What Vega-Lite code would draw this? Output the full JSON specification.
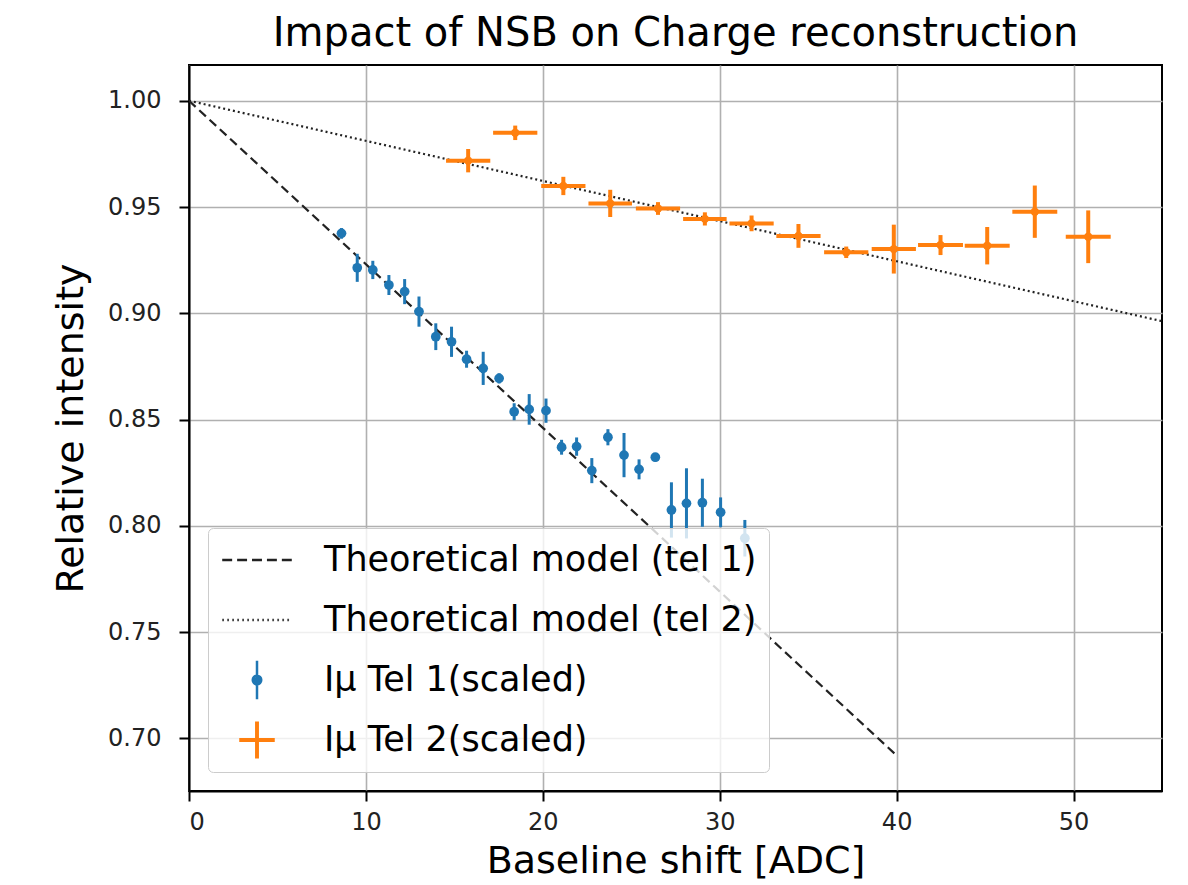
{
  "$schema": "https://vega.github.io/schema/vega-lite/v6.json",
  "width": 973,
  "height": 726,
  "autosize": {"type": "none"},
  "padding": {"left": 189, "top": 65, "right": 26, "bottom": 94},
  "background": "white",
  "title": {
    "text": "Impact of NSB on Charge reconstruction",
    "font": "DejaVu Sans",
    "fontSize": 40,
    "fontWeight": "normal",
    "color": "#000000",
    "anchor": "middle",
    "frame": "group",
    "baseline": "bottom",
    "offset": 9,
    "dy": 38
  },
  "config": {
    "view": {"stroke": "#000000", "strokeWidth": 2},
    "font": "DejaVu Sans",
    "axis": {
      "grid": true,
      "gridColor": "#b0b0b0",
      "gridWidth": 1.6,
      "domainColor": "#000000",
      "domainWidth": 2,
      "tickColor": "#000000",
      "tickWidth": 2,
      "tickSize": 10,
      "labelFont": "DejaVu Sans",
      "labelFontSize": 24,
      "labelColor": "#222222",
      "titleFont": "DejaVu Sans",
      "titleFontSize": 38,
      "titleFontWeight": "normal",
      "titleColor": "#000000"
    }
  },
  "datasets": {
    "model": [
      {"series": "tel1", "x": 0, "y": 1.0},
      {"series": "tel1", "x": 13, "y": 0.9},
      {"series": "tel1", "x": 26, "y": 0.8},
      {"series": "tel1", "x": 40, "y": 0.692},
      {"series": "tel2", "x": 0, "y": 1.0},
      {"series": "tel2", "x": 15, "y": 0.9717},
      {"series": "tel2", "x": 30, "y": 0.9434},
      {"series": "tel2", "x": 40, "y": 0.9245},
      {"series": "tel2", "x": 55, "y": 0.8963}
    ],
    "tel1": [
      {"x": 8.62, "y": 0.9376, "ey": 0.0025},
      {"x": 9.51, "y": 0.9214, "ey": 0.0066},
      {"x": 10.39, "y": 0.9204, "ey": 0.0043},
      {"x": 11.30, "y": 0.9133, "ey": 0.0047},
      {"x": 12.19, "y": 0.9102, "ey": 0.0059},
      {"x": 13.00, "y": 0.9008, "ey": 0.0071},
      {"x": 13.95, "y": 0.8890, "ey": 0.0063},
      {"x": 14.84, "y": 0.8866, "ey": 0.0071},
      {"x": 15.69, "y": 0.8784, "ey": 0.0040},
      {"x": 16.63, "y": 0.8741, "ey": 0.0078},
      {"x": 17.53, "y": 0.8694, "ey": 0.0024},
      {"x": 18.38, "y": 0.8537, "ey": 0.0040},
      {"x": 19.23, "y": 0.8548, "ey": 0.0072},
      {"x": 20.18, "y": 0.8542, "ey": 0.0057},
      {"x": 21.06, "y": 0.8370, "ey": 0.0035},
      {"x": 21.91, "y": 0.8373, "ey": 0.0043},
      {"x": 22.77, "y": 0.8260, "ey": 0.0059},
      {"x": 23.68, "y": 0.8417, "ey": 0.0038},
      {"x": 24.59, "y": 0.8333, "ey": 0.0104},
      {"x": 25.44, "y": 0.8266, "ey": 0.0047},
      {"x": 26.36, "y": 0.8323, "ey": 0.0020},
      {"x": 27.27, "y": 0.8075, "ey": 0.0130},
      {"x": 28.12, "y": 0.8106, "ey": 0.0165},
      {"x": 29.02, "y": 0.8109, "ey": 0.0113},
      {"x": 30.05, "y": 0.8064, "ey": 0.0070},
      {"x": 31.42, "y": 0.7942, "ey": 0.0086}
    ],
    "tel2": [
      {"x": 15.78, "y": 0.9718, "ex": 1.25, "ey": 0.0055},
      {"x": 18.44, "y": 0.9849, "ex": 1.25, "ey": 0.0034},
      {"x": 21.16, "y": 0.9599, "ex": 1.25, "ey": 0.0043},
      {"x": 23.81, "y": 0.9517, "ex": 1.23, "ey": 0.0064},
      {"x": 26.51, "y": 0.9493, "ex": 1.25, "ey": 0.0030},
      {"x": 29.16, "y": 0.9444, "ex": 1.23, "ey": 0.0031},
      {"x": 31.80, "y": 0.9423, "ex": 1.25, "ey": 0.0037},
      {"x": 34.45, "y": 0.9364, "ex": 1.25, "ey": 0.0056},
      {"x": 37.15, "y": 0.9287, "ex": 1.25, "ey": 0.0027},
      {"x": 39.84, "y": 0.9302, "ex": 1.25, "ey": 0.0115},
      {"x": 42.48, "y": 0.9321, "ex": 1.27, "ey": 0.0047},
      {"x": 45.12, "y": 0.9318, "ex": 1.27, "ey": 0.0088},
      {"x": 47.81, "y": 0.9478, "ex": 1.27, "ey": 0.0123},
      {"x": 50.83, "y": 0.9360, "ex": 1.27, "ey": 0.0124}
    ],
    "legend": [
      {"series": "Theoretical model (tel 1)"},
      {"series": "Theoretical model (tel 2)"},
      {"series": "Iμ Tel 1(scaled)"},
      {"series": "Iμ Tel 2(scaled)"}
    ]
  },
  "encoding": {
    "x": {"field": "x", "type": "quantitative", "title": "Baseline shift [ADC]", "scale": {"domain": [0, 55], "nice": false, "zero": false}, "axis": {"values": [0, 10, 20, 30, 40, 50], "labelPadding": 9, "titlePadding": 8}},
    "y": {"field": "y", "type": "quantitative", "title": "Relative intensity", "scale": {"domain": [0.6753, 1.0168], "nice": false, "zero": false}, "axis": {"values": [0.70, 0.75, 0.80, 0.85, 0.90, 0.95, 1.00], "format": ".2f", "labelPadding": 18, "titlePadding": 17}}
  },
  "layer": [
    {
      "data": {"name": "model"},
      "mark": {"type": "line", "color": "#222222", "strokeWidth": 2.2, "clip": true},
      "encoding": {
        "detail": {"field": "series", "type": "nominal"},
        "strokeDash": {"field": "series", "type": "nominal", "scale": {"domain": ["tel1", "tel2"], "range": [[9, 5], [2, 3]]}, "legend": null}
      }
    },
    {
      "data": {"name": "tel1"},
      "mark": {"type": "errorbar", "color": "#1f77b4", "thickness": 3},
      "encoding": {
        "yError": {"field": "ey"}
      }
    },
    {
      "data": {"name": "tel1"},
      "mark": {"type": "point", "filled": true, "opacity": 1, "color": "#1f77b4", "size": 95, "shape": "circle"}
    },
    {
      "data": {"name": "tel2"},
      "mark": {"type": "errorbar", "color": "#ff7f0e", "thickness": 4},
      "encoding": {
        "yError": {"field": "ey"}
      }
    },
    {
      "data": {"name": "tel2"},
      "mark": {"type": "errorbar", "color": "#ff7f0e", "thickness": 4},
      "encoding": {
        "xError": {"field": "ex"}
      }
    },
    {
      "data": {"name": "tel2"},
      "mark": {"type": "point", "filled": true, "opacity": 1, "color": "#ff7f0e", "size": 70, "shape": "circle"}
    },
    {
      "data": {"name": "legend"},
      "mark": {"type": "point", "filled": false, "opacity": 0},
      "encoding": {
        "x": {"datum": 1, "type": "quantitative"},
        "y": {"datum": 1, "type": "quantitative"},
        "color": {
          "field": "series", "type": "nominal",
          "scale": {"domain": ["Theoretical model (tel 1)", "Theoretical model (tel 2)", "Iμ Tel 1(scaled)", "Iμ Tel 2(scaled)"], "range": ["#222222", "#444444", "#1f77b4", "#ff7f0e"]},
          "legend": {
            "title": null,
            "orient": "bottom-left",
            "offset": 19,
            "padding": 12,
            "fillColor": "rgba(255,255,255,0.8)",
            "strokeColor": "#cccccc",
            "cornerRadius": 5,
            "labelFont": "DejaVu Sans",
            "labelFontSize": 35,
            "labelColor": "#000000",
            "labelLimit": 700,
            "labelOffset": 30,
            "rowPadding": 20,
            "clipHeight": 40,
            "symbolSize": 5041,
            "symbolOpacity": 1,
            "symbolStrokeWidth": 2.5
          }
        },
        "shape": {
          "field": "series", "type": "nominal",
          "scale": {
            "domain": ["Theoretical model (tel 1)", "Theoretical model (tel 2)", "Iμ Tel 1(scaled)", "Iμ Tel 2(scaled)"],
            "range": [
              "M-0.98,0H-0.7M-0.56,0H-0.28M-0.14,0H0.14M0.28,0H0.56M0.7,0H0.98",
              "M-0.98,0h0.05M-0.839,0h0.05M-0.698,0h0.05M-0.557,0h0.05M-0.416,0h0.05M-0.275,0h0.05M-0.134,0h0.05M0.007,0h0.05M0.148,0h0.05M0.289,0h0.05M0.43,0h0.05M0.571,0h0.05M0.712,0h0.05M0.853,0h0.05",
              "M0,-0.54V0.54M-0.12,0A0.12,0.12 0 1,0 0.12,0A0.12,0.12 0 1,0 -0.12,0M-0.05,0A0.05,0.05 0 1,0 0.05,0A0.05,0.05 0 1,0 -0.05,0",
              "M-0.5,-0.02H0.5M-0.5,0.02H0.5M-0.02,-0.52V0.52M0.02,-0.52V0.52"
            ]
          },
          "legend": {
            "title": null,
            "orient": "bottom-left",
            "offset": 19,
            "padding": 12,
            "fillColor": "rgba(255,255,255,0.8)",
            "strokeColor": "#cccccc",
            "cornerRadius": 5,
            "labelFont": "DejaVu Sans",
            "labelFontSize": 35,
            "labelColor": "#000000",
            "labelLimit": 700,
            "labelOffset": 30,
            "rowPadding": 20,
            "clipHeight": 40,
            "symbolSize": 5041,
            "symbolOpacity": 1,
            "symbolStrokeWidth": 2.5
          }
        }
      }
    }
  ]
}
